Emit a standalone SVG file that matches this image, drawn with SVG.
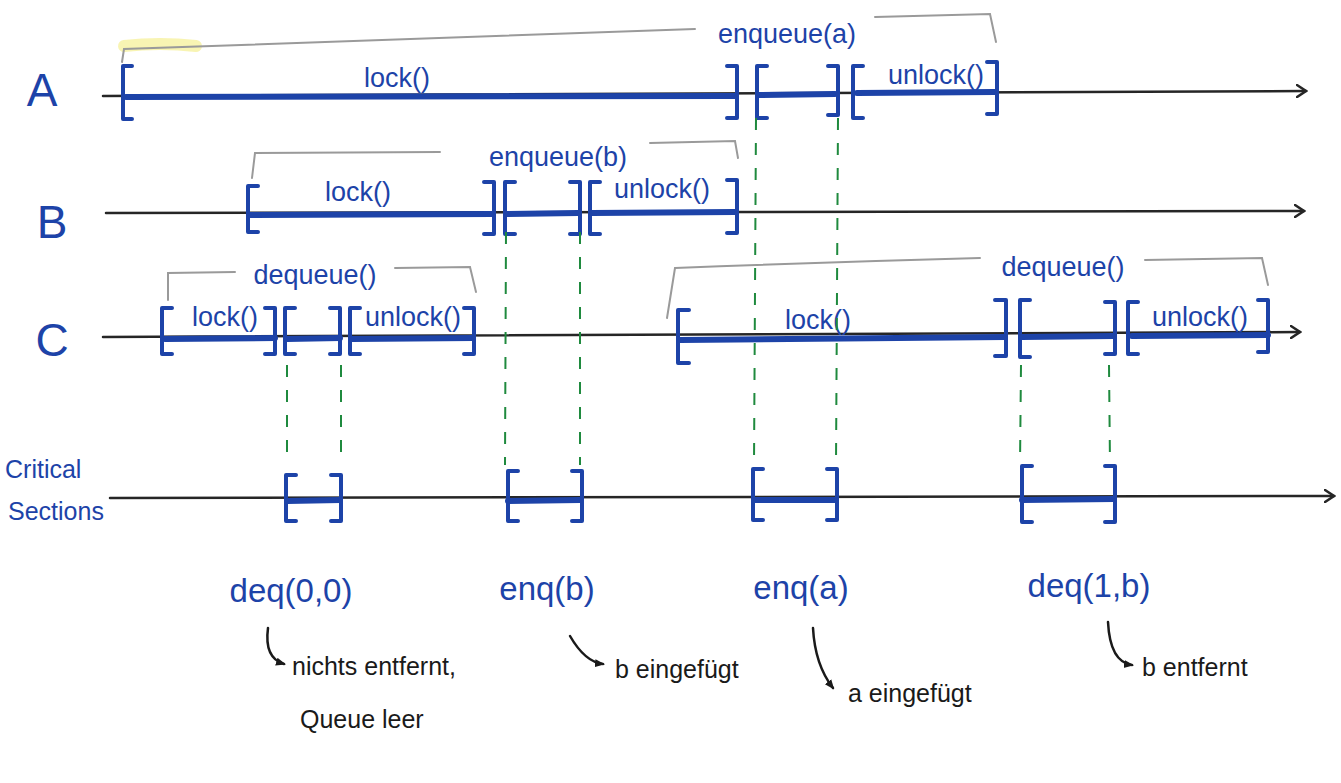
<svg xmlns="http://www.w3.org/2000/svg" width="1341" height="783" viewBox="0 0 1341 783">
  <style>
    .bg { fill: #ffffff; }
    .axis { stroke: #262626; stroke-width: 2.5; fill: none; stroke-linecap: round; }
    .bar { stroke: #1d43a8; stroke-width: 6; fill: none; stroke-linecap: round; }
    .brk { stroke: #1d43a8; stroke-width: 4; fill: none; stroke-linecap: round; stroke-linejoin: round; }
    .brace { stroke: #9a9a9a; stroke-width: 2; fill: none; stroke-linecap: round; }
    .guide { stroke: #1f8a3e; stroke-width: 2; fill: none; stroke-dasharray: 12 13; }
    .note { stroke: #1a1a1a; stroke-width: 2.5; fill: none; stroke-linecap: round; }
    .blue { fill: #1d43a8; font-family: "Liberation Sans", "DejaVu Sans", sans-serif; }
    .black { fill: #1a1a1a; font-family: "Liberation Sans", "DejaVu Sans", sans-serif; }
    .row { font-size: 46px; }
    .op { font-size: 27px; text-anchor: middle; }
    .res { font-size: 33px; text-anchor: middle; }
    .txt { font-size: 25px; }
  </style>
  <defs>
    <marker id="open" viewBox="0 0 12 14" refX="10" refY="7" markerWidth="12" markerHeight="14" markerUnits="userSpaceOnUse" orient="auto">
      <path d="M1,1 L10,7 L1,13" fill="none" stroke="#262626" stroke-width="2.5" stroke-linecap="round"/>
    </marker>
    <marker id="dot" viewBox="0 0 10 10" refX="8" refY="5" markerWidth="10" markerHeight="10" markerUnits="userSpaceOnUse" orient="auto">
      <path d="M0,1 L10,5 L0,9 Z" fill="#1a1a1a"/>
    </marker>
  </defs>

  <rect class="bg" x="0" y="0" width="1341" height="783"/>

  <!-- yellow highlighter streak at the start of thread A's brace -->
  <path d="M124,46 Q160,42 196,46" stroke="#f6f09a" stroke-width="12" fill="none" stroke-linecap="round" opacity="0.75"/>

  <!-- time axes -->
  <g id="axes">
    <path class="axis" d="M103,96 L1306,91" marker-end="url(#open)"/>
    <path class="axis" d="M106,213 L1304,211" marker-end="url(#open)"/>
    <path class="axis" d="M103,337 L1300,332" marker-end="url(#open)"/>
    <path class="axis" d="M110,498 L1334,496" marker-end="url(#open)"/>
  </g>

  <!-- thread A -->
  <g id="thread-A">
    <text class="blue row" x="42" y="106" text-anchor="middle">A</text>
    <path class="brace" d="M122,62 L124,49 Q400,40 695,29"/>
    <path class="brace" d="M875,17 L990,14 L996,42"/>
    <text class="blue op" x="787" y="43">enqueue(a)</text>
    <text class="blue op" x="397" y="87">lock()</text>
    <text class="blue op" x="936" y="84">unlock()</text>
    <path class="bar" d="M126,97 L735,96"/>
    <path class="bar" d="M758,95 L835,94"/>
    <path class="bar" d="M857,93 L995,92"/>
    <path class="brk" d="M132,66 L123,66 L123,119 L132,119"/>
    <path class="brk" d="M727,66 L737,66 L737,118 L727,118"/>
    <path class="brk" d="M767,66 L757,66 L757,118 L767,118"/>
    <path class="brk" d="M828,66 L838,66 L838,115 L828,115"/>
    <path class="brk" d="M863,66 L853,66 L853,118 L863,118"/>
    <path class="brk" d="M987,62 L997,62 L997,114 L987,114"/>
  </g>

  <!-- thread B -->
  <g id="thread-B">
    <text class="blue row" x="52" y="238" text-anchor="middle">B</text>
    <path class="brace" d="M252,178 L255,153 L440,152"/>
    <path class="brace" d="M650,143 L735,141 L738,158"/>
    <text class="blue op" x="558" y="166">enqueue(b)</text>
    <text class="blue op" x="358" y="201">lock()</text>
    <text class="blue op" x="662" y="198">unlock()</text>
    <path class="bar" d="M250,215 L492,214"/>
    <path class="bar" d="M507,214 L578,213"/>
    <path class="bar" d="M592,213 L735,212"/>
    <path class="brk" d="M258,186 L248,186 L248,232 L258,232"/>
    <path class="brk" d="M484,182 L494,182 L494,234 L484,234"/>
    <path class="brk" d="M515,182 L505,182 L505,234 L515,234"/>
    <path class="brk" d="M570,182 L580,182 L580,234 L570,234"/>
    <path class="brk" d="M600,182 L590,182 L590,234 L600,234"/>
    <path class="brk" d="M727,180 L737,180 L737,233 L727,233"/>
  </g>

  <!-- thread C -->
  <g id="thread-C">
    <text class="blue row" x="52" y="356" text-anchor="middle">C</text>
    <path class="brace" d="M168,300 L168,273 L235,272"/>
    <path class="brace" d="M395,268 L470,267 L476,292"/>
    <text class="blue op" x="315" y="284">dequeue()</text>
    <text class="blue op" x="225" y="326">lock()</text>
    <text class="blue op" x="413" y="326">unlock()</text>
    <path class="bar" d="M165,339 L275,338"/>
    <path class="bar" d="M287,339 L340,338"/>
    <path class="bar" d="M352,339 L473,338"/>
    <path class="brk" d="M172,308 L162,308 L162,354 L172,354"/>
    <path class="brk" d="M265,308 L275,308 L275,354 L265,354"/>
    <path class="brk" d="M295,308 L285,308 L285,354 L295,354"/>
    <path class="brk" d="M330,308 L340,308 L340,354 L330,354"/>
    <path class="brk" d="M360,308 L350,308 L350,354 L360,354"/>
    <path class="brk" d="M464,308 L474,308 L474,354 L464,354"/>

    <path class="brace" d="M667,318 L675,268 Q830,262 980,258"/>
    <path class="brace" d="M1145,260 L1262,258 L1268,285"/>
    <text class="blue op" x="1063" y="276">dequeue()</text>
    <text class="blue op" x="818" y="329">lock()</text>
    <text class="blue op" x="1200" y="326">unlock()</text>
    <path class="bar" d="M680,340 L1005,337"/>
    <path class="bar" d="M1022,337 L1113,336"/>
    <path class="bar" d="M1132,336 L1268,335"/>
    <path class="brk" d="M689,310 L678,310 L678,363 L689,363"/>
    <path class="brk" d="M995,300 L1006,300 L1006,356 L995,356"/>
    <path class="brk" d="M1030,300 L1020,300 L1020,357 L1030,357"/>
    <path class="brk" d="M1105,302 L1115,302 L1115,354 L1105,354"/>
    <path class="brk" d="M1138,302 L1128,302 L1128,354 L1138,354"/>
    <path class="brk" d="M1258,300 L1268,300 L1268,352 L1258,352"/>
  </g>

  <!-- projection of each critical section onto the bottom axis -->
  <g id="connectors">
    <path class="guide" d="M287,365 L287,465"/>
    <path class="guide" d="M341,365 L341,465"/>
    <path class="guide" d="M506,232 L505,465"/>
    <path class="guide" d="M580,232 L580,465"/>
    <path class="guide" d="M756,118 L754,465"/>
    <path class="guide" d="M838,118 L836,465"/>
    <path class="guide" d="M1021,365 L1020,465"/>
    <path class="guide" d="M1109,365 L1110,465"/>
  </g>

  <!-- serialized critical sections -->
  <g id="critical-sections">
    <text class="blue txt" x="5" y="478">Critical</text>
    <text class="blue txt" x="8" y="520">Sections</text>
    <path class="bar" d="M287,501 L340,500"/>
    <path class="bar" d="M508,501 L580,500"/>
    <path class="bar" d="M754,500 L836,500"/>
    <path class="bar" d="M1022,500 L1114,499"/>
    <path class="brk" d="M296,475 L286,475 L286,521 L296,521"/>
    <path class="brk" d="M331,475 L341,475 L341,521 L331,521"/>
    <path class="brk" d="M518,471 L508,471 L508,521 L518,521"/>
    <path class="brk" d="M572,471 L582,471 L582,521 L572,521"/>
    <path class="brk" d="M763,469 L753,469 L753,520 L763,520"/>
    <path class="brk" d="M827,469 L837,469 L837,520 L827,520"/>
    <path class="brk" d="M1032,466 L1022,466 L1022,522 L1032,522"/>
    <path class="brk" d="M1105,466 L1115,466 L1115,522 L1105,522"/>
  </g>

  <!-- resulting operations -->
  <g id="op-deq00">
    <text class="blue res" x="291" y="602">deq(0,0)</text>
    <path class="note" d="M268,628 Q264,658 284,664" marker-end="url(#dot)"/>
    <text class="black txt" x="292" y="675">nichts entfernt,</text>
    <text class="black txt" x="300" y="728">Queue leer</text>
  </g>
  <g id="op-enqb">
    <text class="blue res" x="547" y="600">enq(b)</text>
    <path class="note" d="M570,636 Q585,662 603,664" marker-end="url(#dot)"/>
    <text class="black txt" x="615" y="678">b eingefügt</text>
  </g>
  <g id="op-enqa">
    <text class="blue res" x="801" y="599">enq(a)</text>
    <path class="note" d="M813,628 Q815,665 833,688" marker-end="url(#dot)"/>
    <text class="black txt" x="848" y="702">a eingefügt</text>
  </g>
  <g id="op-deq1b">
    <text class="blue res" x="1089" y="597">deq(1,b)</text>
    <path class="note" d="M1108,622 Q1110,662 1132,665" marker-end="url(#dot)"/>
    <text class="black txt" x="1142" y="676">b entfernt</text>
  </g>
</svg>
